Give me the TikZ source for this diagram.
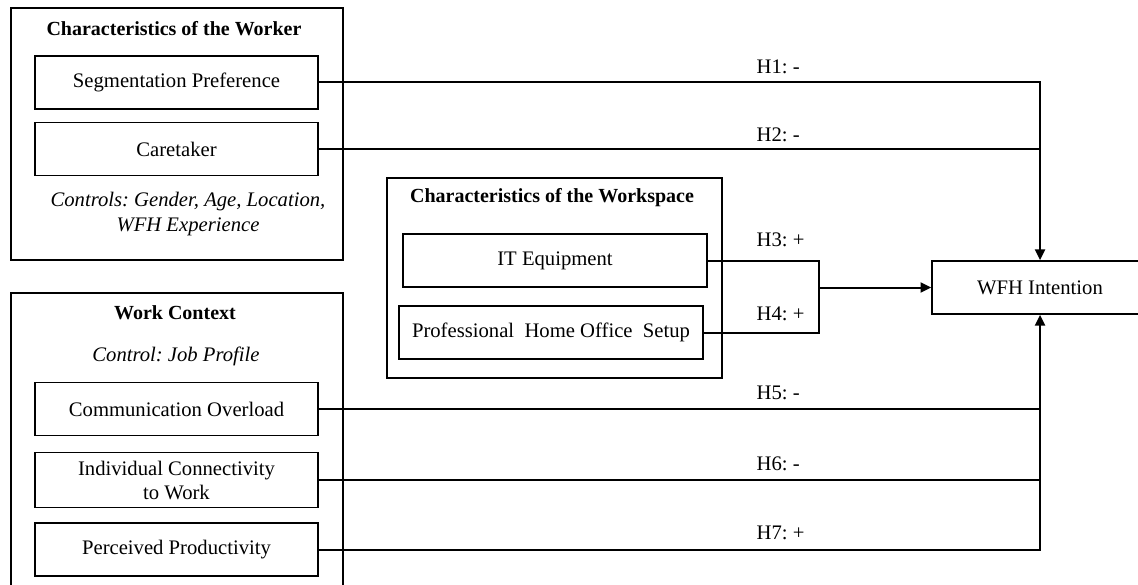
\documentclass[tikz,border=0pt]{standalone}
\usepackage{fontspec}
\setmainfont{Liberation Serif}
\usetikzlibrary{arrows.meta}
\frenchspacing
\begin{document}
\begin{tikzpicture}[x=0.75pt,y=-0.75pt,
    box/.style={draw,line width=1.1pt,minimum width=212pt,minimum height=40pt,
      align=center,inner sep=2pt,font=\fontsize{15.5}{18}\selectfont},
    grp/.style={draw,line width=1.1pt},
    ttl/.style={font=\bfseries\fontsize{15}{18}\selectfont},
    ctl/.style={font=\itshape\fontsize{15.5}{19}\selectfont,align=center},
    conn/.style={line width=1.5pt},
    arr/.style={conn,-{Triangle[length=8pt,width=7.5pt]}},
    hyp/.style={anchor=west,font=\fontsize{15.5}{18}\selectfont}]
  \useasboundingbox (0,0) rectangle (1138,585);
  \clip (0,0) rectangle (1138,585);
  % group frames
  \draw[grp] (11,8) rectangle (343,260);
  \draw[grp] (11,293) rectangle (343,600);
  \draw[grp] (387,178) rectangle (722,378);
  \node[ttl] (tWorker) at (174,29) {Characteristics of the Worker};
  \node[ttl] (tContext) at (175,313) {Work Context};
  \node[ttl] (tSpace) at (552,198) {Characteristics of the Workspace};
  \node[ctl] (cWorker) at (188,214) {Controls: Gender, Age, Location,\\WFH Experience};
  \node[ctl] (cContext) at (176,356) {Control: Job Profile};
  % constructs
  \node[box] (seg) at (176.5,82.5) {Segmentation Preference};
  \node[box] (care) at (176.5,149) {Caretaker};
  \node[box] (comm) at (176.5,409) {Communication Overload};
  \node[box,minimum height=41pt] (indiv) at (176.5,480) {Individual Connectivity\\to Work};
  \node[box] (perc) at (176.5,549.5) {Perceived Productivity};
  \node[box,minimum width=228pt] (it) at (555,260.5) {IT Equipment};
  \node[box,minimum width=228pt] (prof) at (551,332.5) {Professional~ Home Office~ Setup};
  \node[box,minimum width=162pt] (wfh) at (1040,287.5) {WFH Intention};
  \coordinate (mrg) at (819,287.5);
  % paths
  \draw[arr] (seg.east) -| (wfh.north);
  \draw[conn] (care.east) -- (care.east -| wfh.north);
  \draw[conn] (it.east) -| (mrg);
  \draw[conn] (prof.east) -| (mrg);
  \draw[arr] (mrg) -- (wfh.west);
  \draw[arr] (perc.east) -| (wfh.south);
  \draw[conn] (comm.east) -- (comm.east -| wfh.south);
  \draw[conn] (indiv.east) -- (indiv.east -| wfh.south);
  % hypotheses
  \node[hyp] (h1) at (752,67) {H1: -};
  \node[hyp] (h2) at (752,135) {H2: -};
  \node[hyp] (h3) at (752,240) {H3: +};
  \node[hyp] (h4) at (752,314) {H4: +};
  \node[hyp] (h5) at (752,393) {H5: -};
  \node[hyp] (h6) at (752,464) {H6: -};
  \node[hyp] (h7) at (752,533) {H7: +};
\end{tikzpicture}
\end{document}
